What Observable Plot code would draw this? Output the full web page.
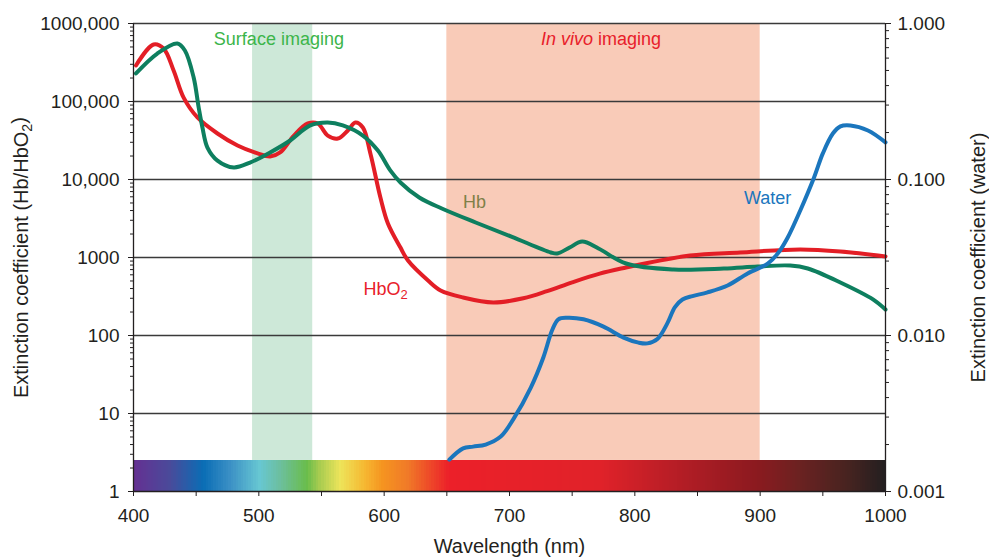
<!DOCTYPE html>
<html>
<head>
<meta charset="utf-8">
<script src="https://cdn.jsdelivr.net/npm/d3@7"></script>
<script src="https://cdn.jsdelivr.net/npm/@observablehq/plot@0.6"></script>
<style>
  html, body { margin: 0; padding: 0; background: #fff; }
</style>
</head>
<body>
<script>
// ---------- data ----------
const hbo2Wavelength = [402, 416, 424, 432, 440, 451, 467, 483, 499, 509, 517, 528, 539, 547, 555, 563, 571, 577, 583, 589, 597, 603, 613, 619, 635, 645, 663, 687, 711, 730, 750, 772, 793, 805, 844, 884, 932, 964, 1000];
const hbo2Value      = [290000, 538000, 478000, 250000, 112000, 62400, 38900, 27300, 21600, 19700, 22200, 36600, 52300, 52300, 36600, 33500, 42500, 53800, 46400, 21600, 5880, 2730, 1340, 915, 507, 378, 307, 265, 300, 370, 480, 620, 745, 820, 1060, 1160, 1267, 1194, 1030];

const hbWavelength = [402, 419, 435, 441, 448, 452, 455, 459, 467, 480, 493, 509, 525, 541, 555, 567, 583, 595, 605, 613, 628, 646, 673, 702, 733, 738, 748, 758, 771, 793, 831, 871, 898, 924, 938, 964, 990, 1000];
const hbValue      = [229000, 412000, 554000, 451000, 203000, 83800, 46400, 25700, 17500, 14300, 16500, 22200, 31600, 49300, 53800, 49300, 36600, 23500, 13000, 9160, 5880, 4250, 2810, 1840, 1160, 1125, 1343, 1600, 1305, 838, 702, 723, 767, 789, 723, 478, 290, 215];

const waterWavelength = [652, 663, 671, 681, 693, 703, 717, 727, 734, 739, 746, 759, 775, 791, 803, 810, 818, 826, 832, 838, 846, 858, 874, 890, 906, 914, 922, 932, 943, 950, 958, 964, 972, 986, 1000];
const waterValue      = [0.00160, 0.00189, 0.00194, 0.00200, 0.00225, 0.00290, 0.00464, 0.00723, 0.0108, 0.0127, 0.0130, 0.0127, 0.0114, 0.0097, 0.0090, 0.0089, 0.0095, 0.0120, 0.0152, 0.0170, 0.0179, 0.0189, 0.0209, 0.0250, 0.0289, 0.0335, 0.0425, 0.0633, 0.103, 0.147, 0.197, 0.219, 0.222, 0.206, 0.173];

const leftTickValues  = [1, 10, 100, 1000, 10000, 100000, 1000000];
const leftTickLabels  = ["1", "10", "100", "1000", "10,000", "100,000", "1000,000"];
const rightTickValues = [0.001, 0.01, 0.1, 1];
const rightTickLabels = ["0.001", "0.010", "0.100", "1.000"];
const xTickValues = [400, 450, 500, 550, 600, 650, 700, 750, 800, 850, 900, 950, 1000];
const xTickLabels = ["400", "", "500", "", "600", "", "700", "", "800", "", "900", "", "1000"];

const bandNames = ["Surface imaging", "In vivo imaging"];
const bandFrom  = [495, 650];
const bandTo    = [543, 900];

const spectrumStops  = [400, 429, 456, 477, 501, 517, 539, 549, 565, 585, 599, 619, 652, 773, 813, 853, 898, 932, 972, 1000];
const spectrumColors = ["#653092", "#4a4a9a", "#0a6db5", "#3a8fc5", "#67c7d2", "#6cbfa0", "#6abd4b", "#a8cc50", "#ede45a", "#f6b731", "#f59420", "#f07a28", "#ec2029", "#e02229", "#c41f27", "#a91c24", "#8b1a1f", "#6b2221", "#452320", "#231f20"];

// ---------- derived tables ----------
const toLeft = w => Math.pow(w / 0.001, 2); // water axis: 0.001..1 <-> 1..1e6
const hbo2 = hbo2Wavelength.map((x, i) => ({x, y: hbo2Value[i]}));
const hb = hbWavelength.map((x, i) => ({x, y: hbValue[i]}));
const water = waterWavelength.map((x, i) => ({x, y: toLeft(waterValue[i])}));
const bands = bandNames.map((name, i) => ({name, from: bandFrom[i], to: bandTo[i]}));
const spectrum = d3.range(400, 1000, 2);

const leftMinor = [];
for (let n = 0; n < 6; n++) for (let k = 2; k <= 9; k++) leftMinor.push(k * Math.pow(10, n));
const rightMinor = [];
for (let n = 0; n < 3; n++) for (let k = 2; k <= 9; k++) rightMinor.push(toLeft(k * Math.pow(10, n - 3)));

const leftLabel = d => leftTickLabels[leftTickValues.findIndex(v => Math.abs(Math.log10(v) - Math.log10(d)) < 1e-6)] ?? "";
const rightLabel = d => {
  const w = Math.sqrt(d) * 0.001;
  const i = rightTickValues.findIndex(v => Math.abs(Math.log10(v) - Math.log10(w)) < 1e-6);
  return i >= 0 ? rightTickLabels[i] : "";
};
const xLabel = d => xTickLabels[xTickValues.indexOf(d)] ?? "";

const ink = "#231f20";

const chart = Plot.plot({
  width: 989,
  height: 559,
  marginLeft: 133,
  marginRight: 104,
  marginTop: 23,
  marginBottom: 68,
  style: {fontFamily: "'Liberation Sans', Arial, Helvetica, sans-serif", fontSize: "19px", color: ink, background: "#fff"},
  x: {domain: [400, 1000]},
  y: {type: "log", domain: [1, 1e6]},
  color: {type: "linear", domain: spectrumStops, range: spectrumColors, interpolate: "rgb"},
  marks: [
    Plot.rect([bands[0]], {x1: "from", x2: "to", y1: 2.5, y2: 1e6, fill: "#cde8d8"}),
    Plot.rect([bands[1]], {x1: "from", x2: "to", y1: 2.5, y2: 1e6, fill: "#f9cbb8"}),
    Plot.ruleY(leftTickValues.slice(1), {stroke: "#3a3a3a", strokeWidth: 1.3}),
    Plot.rect(spectrum, {x1: d => d, x2: d => Math.min(d + 2.6, 1000), y1: 1, y2: 2.5, fill: d => d + 1, shapeRendering: "crispEdges"}),
    Plot.line(hbo2, {x: "x", y: "y", stroke: "#e31e26", strokeWidth: 4, curve: "catmull-rom"}),
    Plot.line(hb, {x: "x", y: "y", stroke: "#0e7f5f", strokeWidth: 4, curve: "catmull-rom"}),
    Plot.line(water, {x: "x", y: "y", stroke: "#1b76bd", strokeWidth: 4, curve: "catmull-rom"}),
    Plot.ruleX([400, 1000], {stroke: ink, strokeWidth: 1.3}),
    Plot.ruleY([1], {stroke: ink, strokeWidth: 1.3}),
    // axes
    Plot.axisY({ticks: leftTickValues, tickFormat: leftLabel, tickSize: 5, tickPadding: 9, stroke: ink, fill: ink, label: null, fontSize: 19}),
    Plot.axisY({ticks: leftMinor, tickFormat: () => "", tickSize: 3, stroke: ink, label: null}),
    Plot.axisY({anchor: "right", ticks: rightTickValues.map(toLeft), tickFormat: rightLabel, tickSize: 5, tickPadding: 7, stroke: ink, fill: ink, label: null, fontSize: 19}),
    Plot.axisY({anchor: "right", ticks: rightMinor, tickFormat: () => "", tickSize: 3, stroke: ink, label: null}),
    Plot.axisX({ticks: xTickValues, tickFormat: xLabel, tickSize: 5, tickPadding: 12, stroke: ink, fill: ink, label: null, fontSize: 19}),
    // axis titles
    Plot.text(["Wavelength (nm)"], {frameAnchor: "bottom", dy: 61, lineAnchor: "bottom", textAnchor: "middle", fill: ink, fontSize: 20}),
    Plot.text(["Extinction coefficient (Hb/HbO2)"], {frameAnchor: "left", dx: -112, rotate: -90, textAnchor: "middle", fill: ink, fontSize: 20}),
    Plot.text(["Extinction coefficient (water)"], {frameAnchor: "right", dx: 93, rotate: -90, textAnchor: "middle", fill: ink, fontSize: 20}),
    // annotations
    Plot.text([bands[0].name], {x: 516, y: 6.2e5, fill: "#3cb54a", fontSize: 18}),
    Plot.text([bands[1].name], {x: 773, y: 6.2e5, fill: "#e8202a", fontSize: 18}),
    Plot.text(["Hb"], {x: 672, y: 5070, fill: "#7f8048", fontSize: 18}),
    Plot.text(["Water"], {x: 906, y: 5710, fill: "#1b76bd", fontSize: 18}),
    Plot.text(["HbO2"], {x: 583.5, y: 389, textAnchor: "start", fill: "#e8202a", fontSize: 18})
  ]
});

// rich text: subscripts and italics
d3.select(chart).selectAll("text").each(function () {
  const t = this.textContent;
  const sel = d3.select(this);
  if (t.includes("HbO2")) {
    const parts = t.split("HbO2");
    sel.text(null);
    sel.append("tspan").text(parts[0] + "HbO");
    sel.append("tspan").attr("dy", "0.3em").attr("font-size", "0.72em").text("2");
    if (parts[1]) sel.append("tspan").attr("dy", "-0.3em").text(parts[1]);
  } else if (t === "In vivo imaging") {
    sel.text(null);
    sel.append("tspan").attr("font-style", "italic").text("In vivo");
    sel.append("tspan").text(" imaging");
  }
});

document.body.appendChild(chart);
</script>
</body>
</html>
